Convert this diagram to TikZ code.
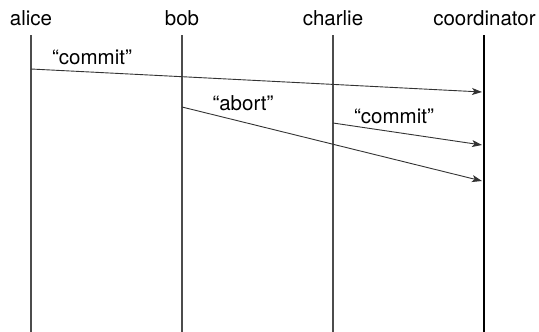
\documentclass[tikz,border=0pt]{standalone}
\usepackage{fontspec}
\setmainfont{TeX Gyre Heros}
\usetikzlibrary{arrows.meta}
\begin{document}
\begin{tikzpicture}[x=1pt,y=-1pt,
  actor/.style={font=\fontsize{20.5}{24}\selectfont, anchor=base, inner sep=0pt},
  lifeline/.style={line width=1.1pt, draw=black!70},
  msg/.style={line width=0.9pt, draw=black!80, -{Stealth[length=10pt,width=7pt,inset=2.5pt]}},
  msglabel/.style={font=\fontsize{20.5}{24}\selectfont, anchor=base, inner sep=0pt}]
  \useasboundingbox (0,0) rectangle (539,332);
  % participants
  \node[actor] (alice) at (31,25) {alice};
  \node[actor] (bob) at (182,25) {bob};
  \node[actor] (charlie) at (333,25) {charlie};
  \node[actor] (coord) at (484.5,25) {coordinator};
  % lifeline ends
  \coordinate (aT) at (31,35);   \coordinate (aB) at (31,332);
  \coordinate (bT) at (182,35);  \coordinate (bB) at (182,332);
  \coordinate (cT) at (333,35);  \coordinate (cB) at (333,332);
  \coordinate (dT) at (484,35);  \coordinate (dB) at (484,332);
  \draw[lifeline] (aT) -- (aB);
  \draw[lifeline] (bT) -- (bB);
  \draw[lifeline] (cT) -- (cB);
  \draw[line width=1.1pt, draw=black] (dT) -- (dB);
  % messages
  \coordinate (m1s) at (31,69);   \coordinate (m1e) at (482,92);
  \coordinate (m2s) at (182,107); \coordinate (m2e) at (482,181);
  \coordinate (m3s) at (333,123); \coordinate (m3e) at (482,145);
  \draw[msg] (m1s) -- (m1e);
  \draw[msg] (m2s) -- (m2e);
  \draw[msg] (m3s) -- (m3e);
  \node[msglabel] (l1) at (92,64) {“commit”};
  \node[msglabel] (l2) at (243,110) {“abort”};
  \node[msglabel] (l3) at (394,123) {“commit”};
\end{tikzpicture}
\end{document}
